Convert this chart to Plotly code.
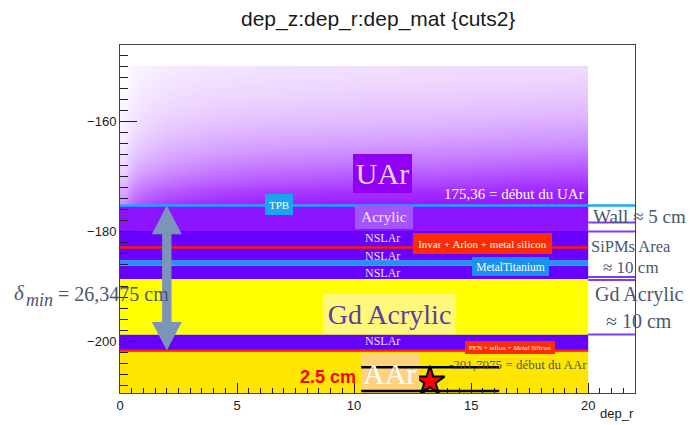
import plotly.graph_objects as go

# ---------------------------------------------------------------- data
# Axis extents (dep_r in cm, dep_z in cm)
R_AXIS = [0.0, 22.0]
Z_AXIS = [-209.42, -146.18]
R_DATA_MAX = 20.0

# Solid material layers below the UAr volume
layer_names = ["AAr", "NSLAr", "Gd Acrylic", "NSLAr", "MetalTitanium", "NSLAr", "Acrylic"]
layer_z_low = [-209.42, -201.7075, -198.8, -188.7, -186.3, -185.3, -180.0]
layer_z_high = [-201.7075, -198.8, -188.7, -186.3, -185.3, -180.0, -175.36]
layer_colors = ["#ffe600", "#6600ff", "#ffff00", "#6600ff", "#1a96f5", "#6a00ff", "#8d14ff"]

# Thin interface layers
thin_names = ["TPB", "Invar + Arlon + metal silicon", "PEN + teflon + Metal Silicon"]
thin_z = [-175.36, -183.0, -201.7075]
thin_r_end = [22.0, 20.0, 20.0]
thin_colors = ["#19aaff", "#ff1a00", "#ff1a00"]

# Deposit density in the UAr volume (fraction of occupied pixels)
uar_r_edges = [0.0, 0.4, 1.0, 2.0, 4.0, 8.0, 12.0, 16.0, 19.0, 20.0]
uar_z_edges = [-175.36, -174, -172, -170, -168, -166, -164, -162, -160,
               -158, -156, -154, -152, -150]
uar_density = [
    [0.45, 0.62, 0.72, 0.80, 0.86, 0.88, 0.90, 0.90, 0.92],
    [0.35, 0.52, 0.62, 0.70, 0.78, 0.82, 0.84, 0.86, 0.88],
    [0.25, 0.42, 0.50, 0.58, 0.66, 0.70, 0.72, 0.76, 0.78],
    [0.18, 0.33, 0.40, 0.48, 0.56, 0.60, 0.62, 0.66, 0.68],
    [0.13, 0.26, 0.33, 0.40, 0.47, 0.50, 0.52, 0.56, 0.58],
    [0.10, 0.20, 0.27, 0.33, 0.39, 0.42, 0.44, 0.47, 0.48],
    [0.08, 0.16, 0.22, 0.28, 0.33, 0.35, 0.37, 0.40, 0.41],
    [0.06, 0.13, 0.18, 0.23, 0.27, 0.29, 0.31, 0.34, 0.35],
    [0.05, 0.11, 0.15, 0.19, 0.23, 0.25, 0.26, 0.28, 0.29],
    [0.04, 0.09, 0.13, 0.16, 0.19, 0.21, 0.22, 0.24, 0.25],
    [0.03, 0.07, 0.11, 0.14, 0.16, 0.18, 0.19, 0.20, 0.21],
    [0.02, 0.06, 0.09, 0.12, 0.14, 0.15, 0.16, 0.17, 0.18],
    [0.01, 0.05, 0.07, 0.10, 0.12, 0.13, 0.14, 0.15, 0.15],
]

# Minimum distance between UAr start and AAr start
uar_start = -175.36
aar_start = -201.7075
delta_min = uar_start - aar_start          # 26.3475 cm
arrow_r = 2.0

# Reference marks in the AAr volume
ref_lines_z = [-204.75, -209.05]
ref_lines_r = [10.3, 16.2]
star_r = [13.24]
star_z = [-207.3]

# Detector zones listed at the right
zone_edges_z = [-178.45, -180.05, -188.34, -188.9, -198.8]

# ---------------------------------------------------------------- figure
SERIF = "Liberation Serif"
SANS = "Liberation Sans"
TEXT_GREY = "#4a5770"

fig = go.Figure()

fig.add_trace(go.Heatmap(
    x=uar_r_edges, y=uar_z_edges, z=uar_density,
    zmin=0, zmax=1, zsmooth="best",
    colorscale=[[0, "#ffffff"], [1, "#9000ff"]],
    showscale=False, hoverinfo="skip",
))

fig.add_trace(go.Scatter(
    x=star_r, y=star_z, mode="markers",
    marker=dict(symbol="star", size=22, color="#ff0000",
                line=dict(color="#000000", width=2)),
    hoverinfo="skip", showlegend=False,
))

shapes = []
for lo, hi, col in zip(layer_z_low, layer_z_high, layer_colors):
    shapes.append(dict(type="rect", xref="x", yref="y", x0=0, x1=R_DATA_MAX,
                       y0=lo, y1=hi, fillcolor=col, line_width=0, layer="below"))

for z, r1, col in zip(thin_z, thin_r_end, thin_colors):
    shapes.append(dict(type="line", xref="x", yref="y", x0=0, x1=r1, y0=z, y1=z,
                       line=dict(color=col, width=2.5), layer="above"))

for z in zone_edges_z:
    shapes.append(dict(type="line", xref="x", yref="y", x0=R_DATA_MAX, x1=R_AXIS[1],
                       y0=z, y1=z, line=dict(color="#7a3cff", width=2), layer="above"))

# AAr label box
shapes.append(dict(type="rect", xref="x", yref="y", x0=10.3, x1=12.78,
                   y0=-209.42, y1=-202.2, fillcolor="#ffd27f", line_width=0, layer="above"))

for z in ref_lines_z:
    shapes.append(dict(type="line", xref="x", yref="y", x0=ref_lines_r[0], x1=ref_lines_r[1],
                       y0=z, y1=z, line=dict(color="#000000", width=2.5), layer="above"))

# double-headed arrow spanning delta_min
hw, sh, hh = 0.64, 0.2, 5.2
top, bot, xa = uar_start, uar_start - delta_min, arrow_r
pts = [(xa, top), (xa + hw, top - hh), (xa + sh, top - hh), (xa + sh, bot + hh),
       (xa + hw, bot + hh), (xa, bot), (xa - hw, bot + hh), (xa - sh, bot + hh),
       (xa - sh, top - hh), (xa - hw, top - hh)]
path = "M " + " L ".join(f"{px},{py}" for px, py in pts) + " Z"
shapes.append(dict(type="path", xref="x", yref="y", path=path,
                   fillcolor="#7b94b8", line_width=0, layer="above"))

ann = []


def label(x, y, text, size, color, bg=None, w=None, h=None, family=SERIF,
          xanchor="center", xref="x", yref="y"):
    d = dict(x=x, y=y, xref=xref, yref=yref, text=text, showarrow=False,
             font=dict(family=family, size=size, color=color),
             xanchor=xanchor, yanchor="middle", borderpad=0)
    if bg:
        d.update(bgcolor=bg, bordercolor=bg, borderwidth=1)
    if w:
        d.update(width=w, height=h)
    ann.append(d)


# title, with its top edge trimmed by the page border
label(0.5, 1 + 26 / 351, "dep_z:dep_r:dep_mat {cuts2}", 21, "#1a1a1a",
      family=SANS, xref="paper", yref="paper")
label(225 / 515, 1 + 39 / 351, " ", 10, "#ffffff", bg="#ffffff", w=690, h=10,
      xref="paper", yref="paper")

label(11.21, -169.5, "UAr", 30, "#e6d6ff", bg="#9100f2", w=57, h=37)
label(19.86, -173.2, "175,36 = début du UAr", 15, "#ffffff", xanchor="right")
label(6.79, -175.2, "TPB", 11, "#ffffff", bg="#1aa3ee", w=26, h=19)
label(11.28, -177.5, "Acrylic", 15, "#f0e6ff", bg="#a255ff", w=56, h=22)
for z in [-181.3, -184.5, -187.7, -200.05]:
    label(11.21, z, "NSLAr", 12, "#ece4ff")
label(15.49, -182.2, "Invar + Arlon + metal silicon", 11, "#ffffff", bg="#ff2a00", w=137, h=19)
label(16.66, -186.5, "MetalTitanium", 11.5, "#ffffff", bg="#1a90f0", w=75, h=17)
label(11.51, -195.1, "Gd Acrylic", 28, "#5b3ea6", bg="#fff87a", w=131, h=38)
label(16.66, -201.2, "PEN + teflon + <i>Metal Silicon</i>", 7, "#ffffff", bg="#ff2a00", w=88, h=11)
label(19.99, -204.3, "-201,7075 = début du AAr", 13, "#55553f", xanchor="right")
label(11.53, -205.9, "AAr", 30, "#ffffff")
label(8.88, -206.6, "<b>2.5 cm</b>", 18, "#ff0000", family=SANS)

# zones at the right
label(20.17, -177.35, "Wall ≈ 5 cm", 19, TEXT_GREY, xanchor="left")
label(20.08, -182.8, "SiPMs Area", 16.5, TEXT_GREY, xanchor="left")
label(21.83, -186.55, "≈ 10 cm", 17, TEXT_GREY)
label(20.25, -191.6, "Gd Acrylic", 20, TEXT_GREY, xanchor="left")
label(1.0078, 0.2071, "≈ 10 cm", 20, TEXT_GREY, xref="paper", yref="paper")

# delta_min text
label(-0.2078, 0.2877, "<i>δ</i>", 21, TEXT_GREY, xanchor="left", xref="paper", yref="paper")
label(-0.1845, 0.2678, "<i>min</i>", 18, TEXT_GREY, xanchor="left", xref="paper", yref="paper")
label(-0.1225, 0.2835, f"= {delta_min:.4f}".replace(".", ",") + " cm", 20, TEXT_GREY,
      xanchor="left", xref="paper", yref="paper")

# axis title
label(1.0, -0.058, "dep_r", 13, "#1a1a1a", family=SANS, xanchor="right",
      xref="paper", yref="paper")

fig.update_layout(
    width=690, height=425,
    margin=dict(l=120, r=55, t=45, b=29),
    paper_bgcolor="#ffffff", plot_bgcolor="#ffffff",
    showlegend=False,
    shapes=shapes, annotations=ann,
)

fig.update_xaxes(range=R_AXIS, showgrid=False, zeroline=False,
                 showline=True, linecolor="#444", linewidth=1, mirror=True,
                 ticks="inside", ticklen=10, tickcolor="#222", dtick=5, tick0=0,
                 minor=dict(ticks="inside", ticklen=5, dtick=0.5, tickcolor="#222"),
                 tickfont=dict(family=SANS, size=13, color="#1a1a1a"))
fig.update_yaxes(range=Z_AXIS, showgrid=False, zeroline=False,
                 showline=True, linecolor="#444", linewidth=1, mirror=True,
                 ticks="inside", ticklen=17, tickcolor="#222", dtick=20, tick0=0,
                 minor=dict(ticks="inside", ticklen=8, dtick=2, tickcolor="#222"),
                 tickfont=dict(family=SANS, size=13, color="#1a1a1a"))

fig.write_html("out.html")
